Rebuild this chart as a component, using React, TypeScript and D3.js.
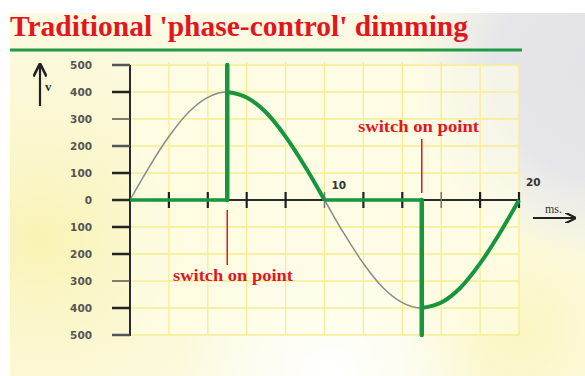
import React from "react";
import * as d3 from "d3";

// ---- data ----
const title = "Traditional 'phase-control' dimming";
const msTicks = [0, 2, 4, 6, 8, 10, 12, 14, 16, 18, 20];
const msLabels = [10, 20];
const voltTicks = [500, 400, 300, 200, 100, 0, -100, -200, -300, -400, -500];
// mains voltage sampled every ms (full cycle)
const sineMs = [0, 1, 2, 3, 4, 5, 6, 7, 8, 9, 10, 11, 12, 13, 14, 15, 16, 17, 18, 19, 20];
const sineV = [0, 124, 235, 324, 380, 400, 380, 324, 235, 124, 0, -124, -235, -324, -380, -400, -380, -324, -235, -124, 0];
// dimmed (phase-controlled) output – conducting segments
const posHalfMs = [5, 6, 7, 8, 9, 10];
const posHalfV = [400, 380, 324, 235, 124, 0];
const negHalfMs = [15, 16, 17, 18, 19, 20];
const negHalfV = [-400, -380, -324, -235, -124, 0];
const offSegments = [[0, 5], [10, 15]];
const switchOnMs = [5, 15];
const spikeV = [500, -500];
const switchLabel = "switch on point";

export default function App() {
  const W = 585, H = 376;
  const x = d3.scaleLinear().domain([0, 20]).range([130, 519]);
  const y = d3.scaleLinear().domain([-500, 500]).range([335, 65]);

  const curve = d3.line<[number, number]>()
    .x(d => x(d[0])).y(d => y(d[1])).curve(d3.curveMonotoneX);

  const sinePts = sineMs.map((m, i) => [m, sineV[i]] as [number, number]);
  const posPts = posHalfMs.map((m, i) => [m, posHalfV[i]] as [number, number]);
  const negPts = negHalfMs.map((m, i) => [m, negHalfV[i]] as [number, number]);

  const green = "#17953f";
  const red = "#e3161d";
  const lightTicks = [10, 16];

  return (
    <div style={{ position: "absolute", left: 0, top: 0, width: W, height: H }}>
      <svg width={W} height={H} viewBox={`0 0 ${W} ${H}`} style={{ display: "block" }}>
        <defs>
          <radialGradient id="gray" cx="600" cy="70" r="190" gradientUnits="userSpaceOnUse">
            <stop offset="0" stopColor="#e2e2e8" />
            <stop offset="0.55" stopColor="#e6e6ea" />
            <stop offset="1" stopColor="#e6e6ea" stopOpacity="0" />
          </radialGradient>
          <radialGradient id="yel" cx="40" cy="240" r="260" gradientUnits="userSpaceOnUse">
            <stop offset="0" stopColor="#f9f3b4" />
            <stop offset="1" stopColor="#fbf8d6" stopOpacity="0" />
          </radialGradient>
          <radialGradient id="white" cx="330" cy="375" r="150" gradientUnits="userSpaceOnUse">
            <stop offset="0" stopColor="#ffffff" />
            <stop offset="1" stopColor="#ffffff" stopOpacity="0" />
          </radialGradient>
          <radialGradient id="yel2" cx="520" cy="330" r="120" gradientUnits="userSpaceOnUse">
            <stop offset="0" stopColor="#fbf6c2" />
            <stop offset="1" stopColor="#fbf6c2" stopOpacity="0" />
          </radialGradient>
          <marker id="arr" viewBox="0 0 10 10" refX="8" refY="5" markerWidth="6" markerHeight="6" orient="auto">
            <path d="M0,0 L10,5 L0,10" fill="none" stroke="#222" strokeWidth="2" />
          </marker>
        </defs>

        {/* background */}
        <rect x={0} y={0} width={W} height={H} fill="#ffffff" />
        <rect x={10} y={13} width={W - 10} height={H - 13} fill="#fcfae2" />
        <rect x={10} y={13} width={W - 10} height={H - 13} fill="url(#yel)" />
        <rect x={10} y={13} width={W - 10} height={H - 13} fill="url(#yel2)" />
        <rect x={10} y={13} width={W - 10} height={H - 13} fill="url(#gray)" />
        <rect x={10} y={13} width={W - 10} height={H - 13} fill="url(#white)" />

        {/* title */}
        <text x={10} y={36} fontFamily="'Liberation Serif', 'Times New Roman', serif" fontWeight="bold"
          fontSize={29.5} fill={red} textLength={458} lengthAdjust="spacingAndGlyphs">{title}</text>
        <line x1={10} x2={522} y1={50} y2={50} stroke="#1f9a45" strokeWidth={3} />

        {/* plot grid */}
        <rect x={x(0)} y={y(500)} width={x(20) - x(0)} height={y(-500) - y(500)} fill="#fffde8" opacity={0.6} />
        {voltTicks.filter(v => v !== 0).map(v => (
          <line key={"gh" + v} x1={x(0)} x2={x(20)} y1={y(v)} y2={y(v)} stroke="#f4ee90" strokeWidth={1.3} />
        ))}
        {msTicks.filter(m => m !== 0).map(m => (
          <line key={"gv" + m} x1={x(m)} x2={x(m)} y1={y(500) - 3} y2={y(-500)} stroke="#f4ee90" strokeWidth={1.3} />
        ))}

        {/* y axis */}
        <line x1={x(0)} x2={x(0)} y1={y(500)} y2={y(-500) + 1} stroke="#2a2a2a" strokeWidth={2} />
        {voltTicks.map(v => (
          <g key={"yt" + v}>
            <line x1={112} x2={x(0)} y1={y(v)} y2={y(v)} stroke={Math.abs(v) === 500 || Math.abs(v) === 300 || v === 200 ? "#555" : "#222"}
              strokeWidth={Math.abs(v) === 300 ? 1.5 : 2.5} />
            <text x={92} y={y(v)} dy="0.36em" textAnchor="end" fontFamily="'DejaVu Sans', sans-serif"
              fontWeight="bold" fontSize={10.5} fill="#555">{Math.abs(v)}</text>
          </g>
        ))}
        {/* y arrow + v */}
        <line x1={40} x2={40} y1={106} y2={66} stroke="#222" strokeWidth={2.2} markerEnd="url(#arr)" />
        <text x={45} y={91} fontFamily="'Liberation Serif', serif" fontWeight="bold" fontSize={13} fill="#333">v</text>

        {/* gray mains sine */}
        <path d={curve(sinePts) || ""} fill="none" stroke="#8a8a8a" strokeWidth={1.5} />

        {/* x axis */}
        <line x1={112} x2={x(20)} y1={y(0)} y2={y(0)} stroke="#2a2a2a" strokeWidth={2} />
        {msTicks.filter(m => m !== 0).map(m => (
          <line key={"xt" + m} x1={x(m)} x2={x(m)} y1={y(0) - 8} y2={y(0) + 8}
            stroke={lightTicks.includes(m) ? "#777" : "#222"} strokeWidth={lightTicks.includes(m) ? 1.5 : 2.2} />
        ))}
        {msLabels.map(m => (
          <text key={"xl" + m} x={x(m) + 7} y={y(0) - (m === 20 ? 14 : 11)} fontFamily="'DejaVu Sans', sans-serif"
            fontWeight="bold" fontSize={10.5} fill="#333">{m}</text>
        ))}
        <text x={545} y={213} fontFamily="'Liberation Serif', serif" fontSize={12} fill="#333">ms.</text>
        <line x1={533} x2={574} y1={218} y2={218} stroke="#222" strokeWidth={1.8} markerEnd="url(#arr)" />

        {/* green dimmed output */}
        {offSegments.map((s, i) => (
          <line key={"off" + i} x1={x(s[0])} x2={x(s[1])} y1={y(0)} y2={y(0)} stroke={green} strokeWidth={3.5} />
        ))}
        <path d={curve(posPts) || ""} fill="none" stroke={green} strokeWidth={4} />
        <path d={curve(negPts) || ""} fill="none" stroke={green} strokeWidth={4} />
        {switchOnMs.map((m, i) => (
          <line key={"sp" + i} x1={x(m)} x2={x(m)} y1={y(0)} y2={y(spikeV[i])} stroke={green} strokeWidth={4.5}
            strokeLinecap="round" />
        ))}

        {/* switch-on annotations */}
        <line x1={x(switchOnMs[0])} x2={x(switchOnMs[0])} y1={210} y2={265} stroke={red} strokeWidth={1.5} />
        <text x={173} y={281} fontFamily="'Liberation Serif', serif" fontWeight="bold" fontSize={16.5} fill={red}
          textLength={120} lengthAdjust="spacingAndGlyphs">{switchLabel}</text>
        <line x1={x(switchOnMs[1])} x2={x(switchOnMs[1])} y1={139} y2={193} stroke={red} strokeWidth={1.5} />
        <text x={358} y={132} fontFamily="'Liberation Serif', serif" fontWeight="bold" fontSize={16.5} fill={red}
          textLength={121} lengthAdjust="spacingAndGlyphs">{switchLabel}</text>
      </svg>
    </div>
  );
}
